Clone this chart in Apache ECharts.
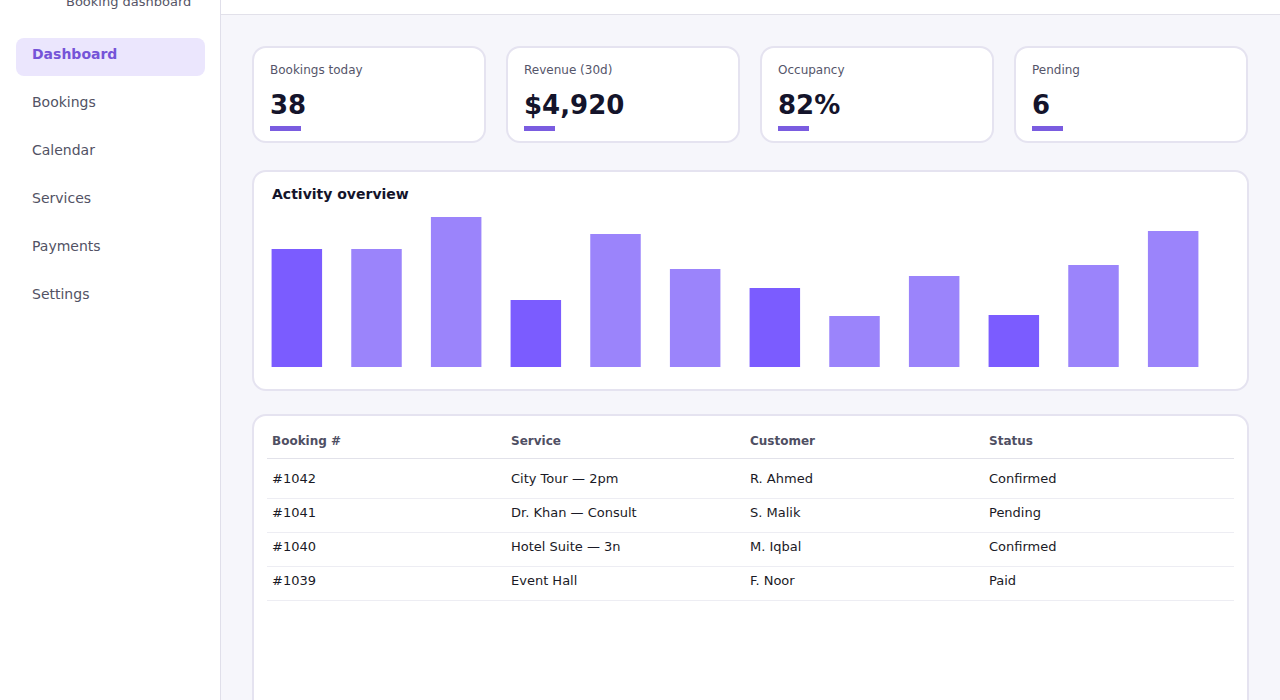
<!DOCTYPE html>
<html>
<head>
<meta charset="utf-8">
<title>Booking dashboard</title>
<script src="https://cdn.jsdelivr.net/npm/echarts@6/dist/echarts.min.js"></script>
<style>
  * { box-sizing: border-box; }
  body { margin: 0; width: 1280px; height: 700px; overflow: hidden; background: #f6f6fb;
         font-family: "DejaVu Sans", sans-serif; position: relative; }
  #side { position: absolute; left: 0; top: 0; width: 221px; height: 700px; background: #fff;
          border-right: 1px solid #e0dfea; }
  #brand { position: absolute; left: 66px; top: -6px; font-size: 13px; color: #555566; }
  .nav { position: absolute; left: 16px; width: 189px; height: 38px; border-radius: 8px;
         padding-left: 16px; line-height: 32px; font-size: 14px; color: #525264; }
  .nav.active { background: #ebe6fd; color: #7554d8; font-weight: bold; }
  #top { position: absolute; left: 221px; top: 0; width: 1059px; height: 15px; background: #fff;
         border-bottom: 1px solid #e2e1ea; }
  .card { position: absolute; background: #fff; border: 2px solid #e5e3f0; border-radius: 14px; }
  .stat { top: 46px; width: 234px; height: 97px; }
  .stat .lbl { position: absolute; left: 16px; top: 15px; font-size: 12px; color: #55556a; }
  .stat .val { position: absolute; left: 16px; top: 42px; font-size: 26px; font-weight: bold; color: #14142b; }
  .stat .bar { position: absolute; left: 16px; top: 78px; width: 31px; height: 5px; background: #7a5ce0; }
  #chartCard { left: 252px; top: 170px; width: 997px; height: 221px; }
  #chartCard .title { position: absolute; left: 18px; top: 14px; font-size: 14px; font-weight: bold; color: #14142b; }
  #chart { position: absolute; left: 257px; top: 210px; width: 956px; height: 160px; }
  #tableCard { left: 252px; top: 414px; width: 997px; height: 340px; }
  table { position: absolute; left: 13px; top: 8px; width: 967px; border-collapse: collapse; }
  th, td { text-align: left; padding: 0 0 0 5px; }
  th { font-size: 12px; font-weight: bold; color: #4f4f63; height: 34px; border-bottom: 1px solid #e2e2ea; }
  td { font-size: 13px; color: #1a1a26; height: 34px; padding-bottom: 5px; border-bottom: 1px solid #ededf3; }
  tr.first td { height: 40px; padding-bottom: 0; padding-top: 1px; }
</style>
</head>
<body>
<div id="side">
  <div id="brand">Booking dashboard</div>
</div>
<div id="top"></div>
<div id="nav"></div>
<div id="stats"></div>
<div class="card" id="chartCard"><div class="title">Activity overview</div></div>
<div id="chart"></div>
<div class="card" id="tableCard"><table id="tbl"></table></div>

<script type="text/javascript">
    // sidebar / cards / table text
    var navItems = ['Dashboard', 'Bookings', 'Calendar', 'Services', 'Payments', 'Settings'];
    var statLabels = ['Bookings today', 'Revenue (30d)', 'Occupancy', 'Pending'];
    var statValues = ['38', '$4,920', '82%', '6'];
    var tableHead = ['Booking #', 'Service', 'Customer', 'Status'];
    var bookingIds = ['#1042', '#1041', '#1040', '#1039'];
    var services = ['City Tour — 2pm', 'Dr. Khan — Consult', 'Hotel Suite — 3n', 'Event Hall'];
    var customers = ['R. Ahmed', 'S. Malik', 'M. Iqbal', 'F. Noor'];
    var statuses = ['Confirmed', 'Pending', 'Confirmed', 'Paid'];

    // activity bars (relative scale 0-150)
    var slots = ['1', '2', '3', '4', '5', '6', '7', '8', '9', '10', '11', '12'];
    var activity = [118, 118, 150, 67, 133, 98, 79, 51, 91, 52, 102, 136];

    var html = '';
    for (var i = 0; i < navItems.length; i++) {
        html += '<div class="nav' + (i == 0 ? ' active' : '') + '" style="top:' + (38 + i * 48) + 'px">' + navItems[i] + '</div>';
    }
    document.getElementById('nav').innerHTML = html;

    html = '';
    for (var i = 0; i < statLabels.length; i++) {
        html += '<div class="card stat" style="left:' + (252 + i * 254) + 'px">' +
            '<div class="lbl">' + statLabels[i] + '</div>' +
            '<div class="val">' + statValues[i] + '</div>' +
            '<div class="bar"></div></div>';
    }
    document.getElementById('stats').innerHTML = html;

    var colW = [239, 239, 239, 250];
    html = '<tr>';
    for (var i = 0; i < tableHead.length; i++) {
        html += '<th style="width:' + colW[i] + 'px">' + tableHead[i] + '</th>';
    }
    html += '</tr>';
    for (var i = 0; i < bookingIds.length; i++) {
        html += '<tr' + (i == 0 ? ' class="first"' : '') + '><td>' + bookingIds[i] + '</td><td>' + services[i] + '</td><td>' +
            customers[i] + '</td><td>' + statuses[i] + '</td></tr>';
    }
    document.getElementById('tbl').innerHTML = html;

    var myChart = echarts.init(document.getElementById('chart'));
    myChart.setOption({
        animation: false,
        grid: { left: 0, right: 0, top: 7, bottom: 3 },
        xAxis: {
            type: 'category',
            data: slots,
            show: false
        },
        yAxis: {
            type: 'value',
            min: 0,
            max: 150,
            show: false
        },
        series: [{
            type: 'bar',
            data: activity,
            barWidth: 50.5,
            itemStyle: {
                color: function(p) {
                    return p.dataIndex % 3 == 0 ? '#7b5cff' : '#9b84fb';
                }
            }
        }]
    });
</script>
</body>
</html>
